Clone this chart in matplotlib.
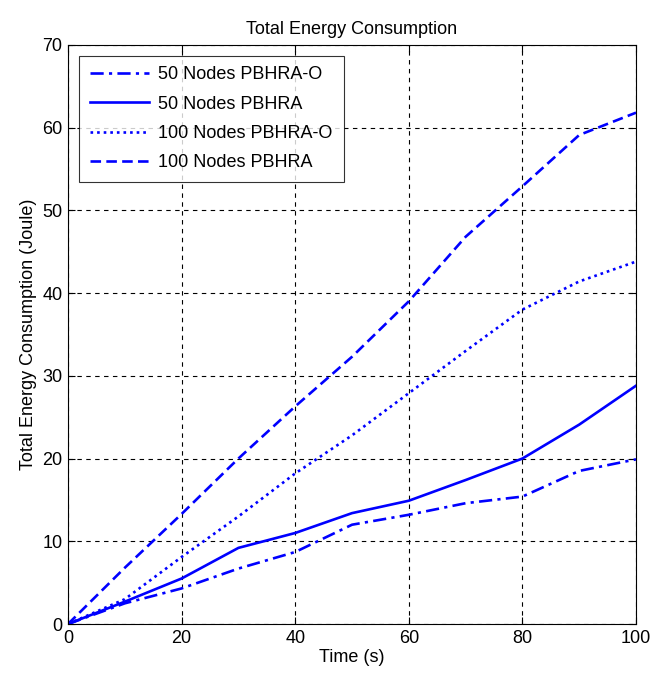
import matplotlib
matplotlib.use("Agg")
import matplotlib.pyplot as plt

plt.rcParams['font.family'] = ['Liberation Sans', 'DejaVu Sans']

time_s = [0, 10, 20, 30, 40, 50, 60, 70, 80, 90, 100]
nodes50_pbhra_o = [0, 2.5, 4.3, 6.7, 8.7, 12.0, 13.2, 14.6, 15.4, 18.5, 19.9]
nodes50_pbhra = [0, 2.7, 5.5, 9.2, 11.0, 13.4, 14.9, 17.4, 20.0, 24.1, 28.8]
nodes100_pbhra_o = [0, 3.0, 8.1, 13.0, 18.2, 22.8, 27.9, 33.0, 38.0, 41.4, 43.8]
nodes100_pbhra = [0, 6.8, 13.3, 20.0, 26.3, 32.3, 39.0, 46.8, 52.9, 59.1, 61.8]

fig = plt.figure(figsize=(6.51, 6.79), dpi=100)
ax = fig.add_axes([0.1045, 0.081, 0.8725, 0.853])

blue = '#0000ff'
lw = 1.9
fs = 13
ax.plot(time_s, nodes50_pbhra_o, color=blue, lw=lw, linestyle=(0, (5, 2, 1.2, 2)), label='50 Nodes PBHRA-O')
ax.plot(time_s, nodes50_pbhra, color=blue, lw=lw, linestyle='-', label='50 Nodes PBHRA')
ax.plot(time_s, nodes100_pbhra_o, color=blue, lw=lw, linestyle=(0, (1, 1.5)), label='100 Nodes PBHRA-O')
ax.plot(time_s, nodes100_pbhra, color=blue, lw=lw, linestyle=(0, (4, 2)), label='100 Nodes PBHRA')

ax.set_xlim(0, 100)
ax.set_ylim(0, 70)
ax.set_xticks(range(0, 101, 20))
ax.set_yticks(range(0, 71, 10))
ax.grid(True, color='black', linestyle=(0, (4, 4)), linewidth=0.8)
ax.tick_params(direction='in', top=True, right=True, labelsize=fs, length=5, width=0.8, pad=4)
for s in ax.spines.values():
    s.set_linewidth(0.8)

ax.set_title('Total Energy Consumption', fontsize=fs, pad=8)
ax.set_xlabel('Time (s)', fontsize=fs, labelpad=2)
ax.set_ylabel('Total Energy Consumption (Joule)', fontsize=fs, labelpad=4)

leg = ax.legend(loc='upper left', fontsize=fs, handlelength=3.3, frameon=True, fancybox=False,
                edgecolor='black', borderaxespad=0.6, labelspacing=0.68, borderpad=0.6,
                handletextpad=0.5)
leg.get_frame().set_linewidth(0.8)

fig.savefig('out.png', dpi=100)
